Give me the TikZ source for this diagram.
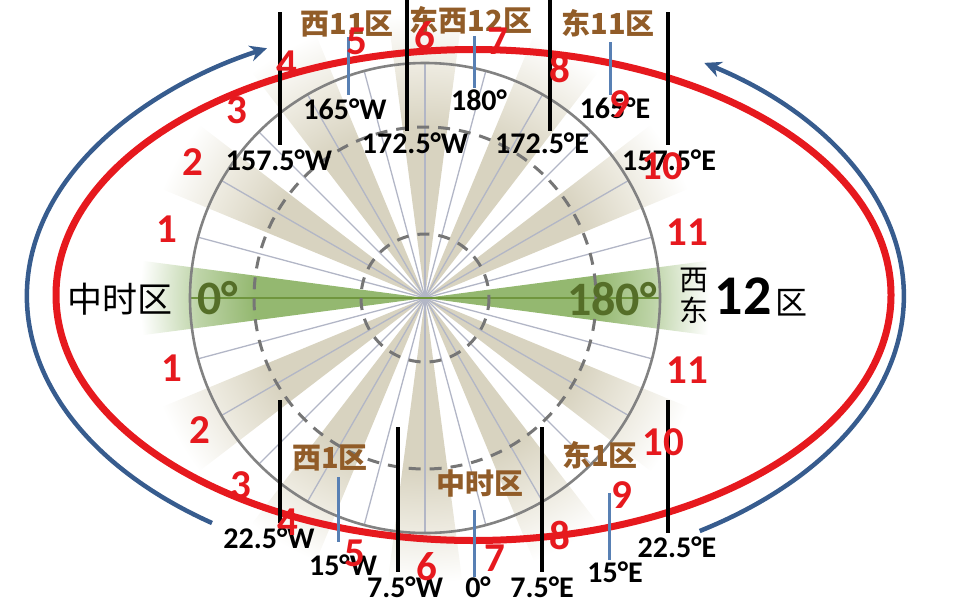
\documentclass[tikz,border=0pt]{standalone}
\usepackage{fontspec}
\setmainfont{Carlito}
\newfontfamily\cjk{Noto Sans CJK SC}
\usepackage{color}
\usepackage{tikz}
\usetikzlibrary{arrows.meta}
\usetikzlibrary{calc}

\definecolor{zonered}{RGB}{230,25,30}
\definecolor{zonebrown}{RGB}{145,92,40}
\definecolor{longreen}{RGB}{85,110,40}
\definecolor{wedgebeige}{RGB}{216,211,192}
\definecolor{wedgebeigeb}{RGB}{236,233,222}
\definecolor{wedgegreen}{RGB}{148,184,112}
\definecolor{wedgegreenb}{RGB}{190,212,168}
\definecolor{spokegrey}{RGB}{178,182,198}
\definecolor{ringgrey}{RGB}{118,118,118}
\definecolor{circgrey}{RGB}{130,130,130}
\definecolor{midblue}{RGB}{88,128,180}
\definecolor{backblue}{RGB}{55,92,142}
\definecolor{axisgreen}{RGB}{112,150,62}

\pgfdeclareradialshading{beigefade}{\pgfpoint{0bp}{0bp}}{color(0bp)=(wedgebeige); color(15bp)=(wedgebeige); color(20bp)=(wedgebeigeb); color(25bp)=(white); color(50bp)=(white)}
\pgfdeclareradialshading{greenfade}{\pgfpoint{0bp}{0bp}}{color(0bp)=(wedgegreen); color(15bp)=(wedgegreen); color(20bp)=(wedgegreenb); color(25bp)=(white); color(50bp)=(white)}

\begin{document}
\begin{tikzpicture}
  [
    x=1pt, y=-1pt,
    spoke/.style={draw=spokegrey, line width=1.3pt},
    dashring/.style={draw=ringgrey, line width=3pt, dash pattern=on 12pt off 9pt},
    meridian/.style={draw=black, line width=3.6pt},
    midline/.style={draw=midblue, line width=3pt},
    backarc/.style={draw=backblue, line width=4.5pt, -{Stealth[length=17pt, width=16pt]}},
    deglabel/.style={font=\bfseries\fontsize{30}{30}\selectfont, inner sep=0pt},
    zonelabel/.style={font=\cjk\bfseries\fontsize{29}{29}\selectfont, text=zonebrown, inner sep=0pt},
    hourno/.style={font=\bfseries\fontsize{41}{41}\selectfont, text=zonered, inner sep=0pt},
    lonlabel/.style={font=\bfseries\fontsize{48}{48}\selectfont, text=longreen, inner sep=0pt},
    cjklabel/.style={font=\cjk\fontsize{#1}{#1}\selectfont, inner sep=0pt}
  ]
    \path[use as bounding box] (0,0) rectangle (955,611);
    \coordinate (C) at (425,298);

    % shaded wedges
    \begin{scope}
      \clip foreach \a in {30,60,90,120,150,210,240,270,300,330} {(C) -- +(\a-7.5:330) -- +(\a+7.5:330) -- cycle};
      \shade[shading=beigefade] (C) circle (285);
    \end{scope}
    \begin{scope}
      \clip foreach \a in {0,180} {(C) -- +(\a-7.5:330) -- +(\a+7.5:330) -- cycle};
      \shade[shading=greenfade] (C) circle (285);
    \end{scope}

    % spokes and rings
    \foreach \a in {15,30,...,165,195,210,...,345}
      \draw[spoke] (C) -- +(\a:235);
    \draw[axisgreen, line width=1.6pt] (C) -- +(235,0);
    \draw[axisgreen, line width=1.6pt] (C) -- +(-235,0);
    \draw[dashring] (C) circle (171);
    \draw[dashring] (C) circle (64);
    \draw[circgrey, line width=2.6pt] (C) circle (235);

    % date line loop and directions
    \draw[zonered, line width=7pt] (473.5,295) ellipse [x radius=417.5, y radius=245.5];
    \draw[backarc] (212,523) arc [start angle=125.3, end angle=243.1, x radius=438.5, y radius=278];
    \draw[backarc] (699.7,531) arc [start angle=57.7, end angle=-57, x radius=438.5, y radius=278];

    % zone borders
    \draw[meridian] (280,12) -- (280,145);
    \draw[meridian] (668,12) -- (668,145);
    \draw[meridian] (280,400) -- (280,523);
    \draw[meridian] (668,400) -- (668,533);
    \foreach \x in {407,550}
      \draw[meridian] (\x,0) -- (\x,131);
    \foreach \x in {398,542}
      \draw[meridian] (\x,427) -- (\x,572);

    % central meridians
    \draw[midline] (348,37) -- (348,95);
    \draw[midline] (474,36) -- (474,88);
    \draw[midline] (610,42) -- (610,95);
    \draw[midline] (338,477) -- (338,542);
    \draw[midline] (474,510) -- (474,577);
    \draw[midline] (609,493) -- (609,560);

    % zone names
    \node[zonelabel] (w11) at (347,24) {西11区};
    \node[zonelabel] (ew12) at (471,20) {东西12区};
    \node[zonelabel] (e11) at (608,23) {东11区};
    \node[zonelabel] (w1) at (330,458) {西1区};
    \node[zonelabel] (mid) at (480,483) {中时区};
    \node[zonelabel] (e1) at (600,455) {东1区};

    % longitudes
    \node[deglabel] (w1575) at (279,160) {157.5°W};
    \node[deglabel] (w165) at (345,109) {165°W};
    \node[deglabel] (w1725) at (415,143) {172.5°W};
    \node[deglabel] (d180) at (479,100) {180°};
    \node[deglabel] (e1725) at (542,143) {172.5°E};
    \node[deglabel] (e165) at (615,108) {165°E};
    \node[deglabel] (e1575) at (669,160) {157.5°E};
    \node[deglabel] (w225) at (269,538) {22.5°W};
    \node[deglabel] (w15) at (343,565) {15°W};
    \node[deglabel] (w75) at (405,587) {7.5°W};
    \node[deglabel] (d0) at (478,587) {0°};
    \node[deglabel] (e75) at (542,587) {7.5°E};
    \node[deglabel] (e15) at (615,572) {15°E};
    \node[deglabel] (e225) at (677,547) {22.5°E};

    % axis ends
    \node[lonlabel] (lon0) at (218,298) {0°};
    \node[lonlabel] (lon180) at (612,299) {180°};
    \node[cjklabel=35] (midleft) at (120,299) {中时区};
    \node[cjklabel=29] (xi) at (694,280) {西};
    \node[cjklabel=29] (dong) at (694,310) {东};
    \node[font=\bfseries\fontsize{56}{56}\selectfont, inner sep=0pt] (n12) at (743,296) {12};
    \node[cjklabel=32] (qu) at (791,303) {区};

    % hours along the loop
    \foreach \n/\x/\y in {1/167/229, 2/193/162, 3/237/110, 4/287/64, 5/357/41, 6/425/36,
      7/498/41, 8/560/68, 9/620/104, 10/662/166, 11/687/232}
      \node[hourno] (top\n) at (\x,\y) {\n};
    \foreach \n/\x/\y in {1/172/368, 2/200/430, 3/241/485, 4/288/522, 5/355/553, 6/427/567,
      7/495/558, 8/560/535, 9/622/495, 10/663/442, 11/687/370}
      \node[hourno] (bot\n) at (\x,\y) {\n};
  \end{tikzpicture}
\end{document}
